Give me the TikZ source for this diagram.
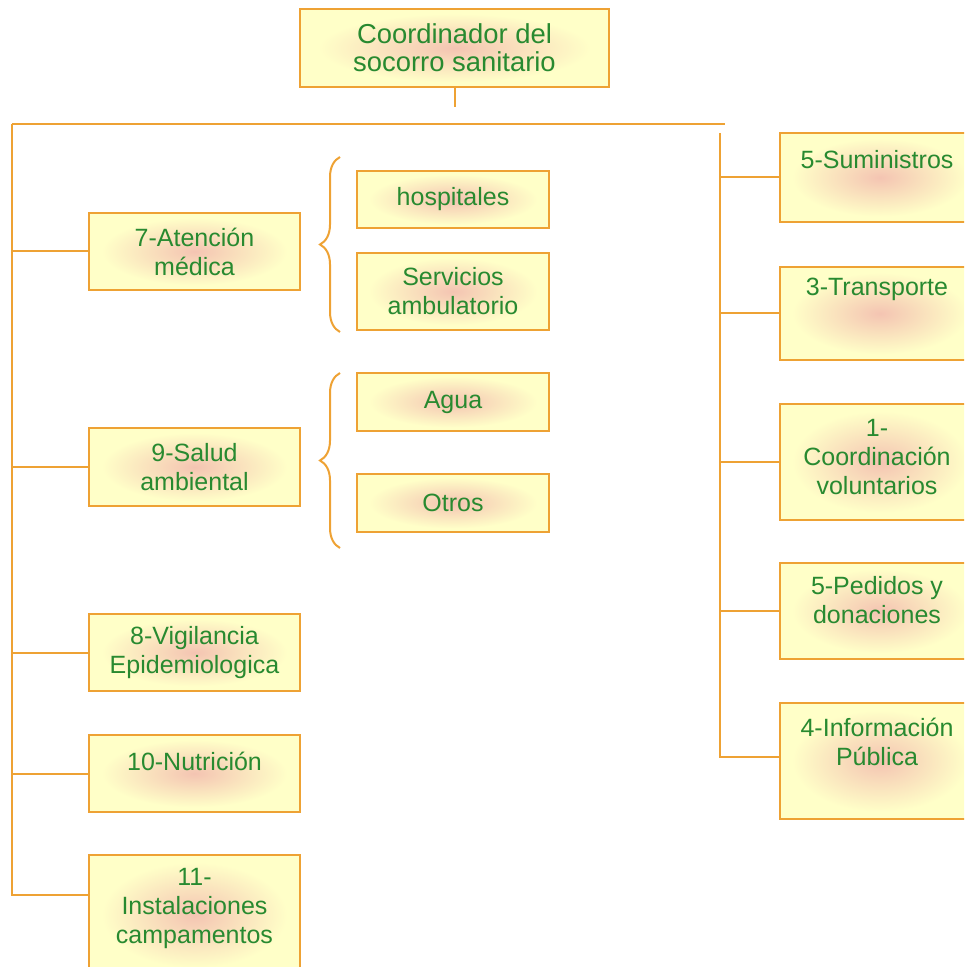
\documentclass[tikz,border=0pt]{standalone}
\usepackage{fontspec}
\setmainfont{Liberation Sans}
\usetikzlibrary{decorations.pathreplacing}
\definecolor{boxline}{RGB}{238,162,52}
\definecolor{boxfill}{RGB}{255,255,200}
\definecolor{boxglow}{RGB}{244,196,178}
\definecolor{txtgreen}{RGB}{40,138,48}
\pgfdeclareradialshading{glowshade}{\pgfpoint{0bp}{0bp}}{color(0bp)=(boxglow); color(22bp)=(boxfill); color(100bp)=(boxfill)}
\tikzset{
  box/.style={rectangle, draw=boxline, line width=1pt, shade, shading=glowshade,
    inner sep=0pt, text=txtgreen, align=center, font=\fontsize{12.5}{14.5}\selectfont},
  txt/.style={text=txtgreen, align=center, font=\fontsize{12.5}{14.5}\selectfont},
  link/.style={draw=boxline, line width=1pt},
  brace/.style={draw=boxline, line width=1pt, decorate, decoration={brace, amplitude=10pt}}
}
\begin{document}
\begin{tikzpicture}[x=0.5pt, y=-0.5pt]
\useasboundingbox (0,0) rectangle (964,967);
\clip (0,0) rectangle (964,967);
%head
\node[box, minimum width=154.5pt, minimum height=39pt, font=\fontsize{13.7}{14.2}\selectfont] (coord) at (454.5,48) {Coordinador del\\socorro sanitario};
\coordinate (barL) at (12,124);
\coordinate (barR) at (725,124);
\coordinate (rtop) at (720,133);
%left column
\node[box, minimum width=105.5pt, minimum height=38.5pt] (aten) at (194.5,251.5) {7-Atención\\médica};
\node[box, minimum width=105.5pt, minimum height=39pt] (salud) at (194.5,467) {9-Salud\\ambiental};
\node[box, minimum width=105.5pt, minimum height=38.5pt] (vigil) at (194.5,652.5) {8-Vigilancia\\Epidemiologica};
\node[box, minimum width=105.5pt, minimum height=38.5pt] (nutri) at (194.5,773.5) {};
\node[txt] (nutri-t) at (194.5,761) {10-Nutrición};
\node[box, minimum width=105.5pt, minimum height=60pt] (inst) at (194.5,915) {};
\node[txt] (inst-t) at (194.5,908) {11-\\Instalaciones\\campamentos};
%sub boxes
\node[box, minimum width=96pt, minimum height=28.5pt] (hosp) at (453,199.5) {hospitales};
\node[box, minimum width=96pt, minimum height=38.5pt] (serv) at (453,291.5) {Servicios\\ambulatorio};
\node[box, minimum width=96pt, minimum height=29pt] (agua) at (453,402) {Agua};
\node[box, minimum width=96pt, minimum height=29pt] (otros) at (453,503) {Otros};
%right column
\node[box, minimum width=100pt, minimum height=44.5pt] (sumi) at (880,177.5) {};
\node[txt] (sumi-t) at (877,160) {5-Suministros};
\node[box, minimum width=100pt, minimum height=46.5pt] (transp) at (880,313.5) {};
\node[txt] (transp-t) at (877,289) {3-Transporte};
\node[box, minimum width=100pt, minimum height=58pt] (volun) at (880,462) {};
\node[txt] (volun-t) at (877,457) {1-\\Coordinación\\voluntarios};
\node[box, minimum width=100pt, minimum height=48pt] (pedid) at (880,611) {};
\node[txt] (pedid-t) at (877,600) {5-Pedidos y\\donaciones};
\node[box, minimum width=100pt, minimum height=58pt] (info) at (880,761) {};
\node[txt] (info-t) at (877,742) {4-Información\\Pública};
%connectors
\draw[link] (coord.south) -- ++(0,19);
\draw[link] (barL) -- (barR);
\draw[link] (barL) |- ([yshift=10pt]inst.west);
\draw[link] (barL |- aten.west) -- (aten.west);
\draw[link] (barL |- salud.west) -- (salud.west);
\draw[link] (barL |- vigil.west) -- (vigil.west);
\draw[link] (barL |- nutri.west) -- (nutri.west);
\draw[link] (rtop) |- ([yshift=2pt]info.west);
\draw[link] (rtop |- sumi.west) -- (sumi.west);
\draw[link] (rtop |- transp.west) -- (transp.west);
\draw[link] (rtop |- volun.west) -- (volun.west);
\draw[link] (rtop |- pedid.west) -- (pedid.west);
%braces
\draw[brace] (340,332) -- (340,157);
\draw[brace] (340,548) -- (340,373);
\end{tikzpicture}
\end{document}
